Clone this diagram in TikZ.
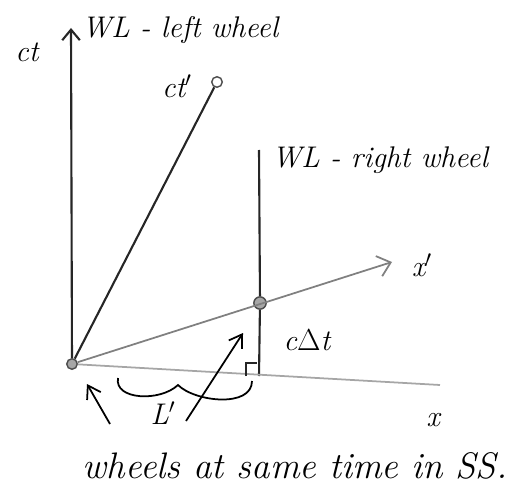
\documentclass[tikz,border=0pt]{standalone}
\usepackage{tikz}
\usetikzlibrary{arrows.meta, positioning}
\tikzstyle{wline} = [line width=1.2pt, black!85]
\tikzstyle{axis} = [line width=1pt, black!50]
\tikzstyle{event} = [circle, draw=black!70, fill=black!35, line width=0.8pt, inner sep=0pt, minimum size=7pt]
\tikzstyle{hand} = [font=\fontsize{17}{20}\selectfont\itshape, inner sep=1pt]
\tikzstyle{arrow} = [line width=1pt, -{Straight Barb[length=7pt, width=9pt]}]

\begin{document}
\begin{tikzpicture}[x=0.02cm, y=-0.02cm]
    \useasboundingbox (0,0) rectangle (526,496);
    % events
    \node (O) [event, minimum size=6pt] at (72,364) {};
    \node (E) [event] at (260,303) {};
    \node (top) [event, fill=white, minimum size=6pt] at (217,82) {};
    \coordinate (ctTop) at (71,28);
    \coordinate (rwTop) at (259,150);
    \coordinate (rwBot) at (259,376);
    \coordinate (xpEnd) at (392,262);
    \coordinate (xEnd) at (440,385);

    % labels
    \node (ct) [hand] at (27,52) {ct};
    \node (lw) [hand, anchor=west] at (80,30) {WL - left wheel};
    \node (ctp) [hand] at (177,86) {ct$'$};
    \node (rw) [hand, anchor=west] at (270,160) {WL - right wheel};
    \node (xp) [hand] at (422,265) {x$'$};
    \node (cdt) [hand] at (307,340) {c$\Delta$t};
    \node (x) [hand] at (433,420) {x};
    \node (Lp) [hand] at (163,413) {L$'$};
    \node (note) [hand, font=\fontsize{21}{24}\selectfont\itshape] at (295,466) {wheels at same time in SS.};

    % world lines and axes
    \draw [wline, -{Straight Barb[length=6pt, width=10pt]}] (O) -- (ctTop);
    \draw [wline] (O) -- (top);
    \draw [wline] (rwTop) -- (E) -- (rwBot);
    \draw [axis, -{Straight Barb[length=7pt, width=12pt]}] (O) -- (xpEnd);
    \draw [axis, black!35] (O) -- (xEnd);
    \draw [wline, line width=0.8pt] (246,376) |- (257,363);

    % L' brace
    \draw [line width=1pt] (118,378) .. controls (114,400) and (160,402) .. (178,385)
        .. controls (195,402) and (252,408) .. (252,381);

    % pointers
    \draw [arrow] (186,421) -- (243,333);
    \draw [arrow] (110,424) -- (87,384);
\end{tikzpicture}
\end{document}
